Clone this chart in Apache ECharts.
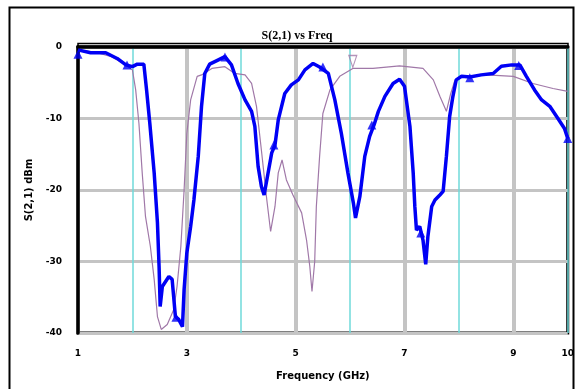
<!DOCTYPE html>
<html>
<head>
<meta charset="utf-8">
<script src="https://cdn.jsdelivr.net/npm/echarts@6/dist/echarts.min.js"></script>
<style>
  html, body { margin: 0; padding: 0; background: #fff; }
  #chart { width: 577px; height: 389px; }
</style>
</head>
<body>
<div id="chart"></div>
<script>
// S(2,1) vs Freq - measured (blue) and simulated (purple)
var blueFreq = [1.00, 1.23, 1.51, 1.72, 1.88, 2.00, 2.09, 2.21, 2.26, 2.32, 2.40, 2.46, 2.49, 2.51, 2.55, 2.67, 2.73, 2.79, 2.85, 2.92, 2.95,
  3.00, 3.07, 3.13, 3.21, 3.27, 3.33, 3.42, 3.58, 3.70, 3.82, 3.94, 4.07, 4.19, 4.25, 4.31, 4.37, 4.42, 4.47, 4.56, 4.62, 4.68, 4.80, 4.92,
  5.05, 5.17, 5.32, 5.44, 5.60, 5.72, 5.84, 5.96, 6.06, 6.10, 6.18, 6.27, 6.36, 6.44, 6.52, 6.64, 6.79, 6.91,
  7.00, 7.10, 7.16, 7.19, 7.22, 7.28, 7.34, 7.39, 7.43, 7.50, 7.56, 7.65, 7.71, 7.77, 7.83, 7.89, 7.95,
  8.05, 8.20, 8.41, 8.63, 8.78, 8.97, 9.12, 9.24, 9.39, 9.52, 9.67, 9.82, 9.94, 10.00];
var blueVal = [-0.4, -0.8, -0.8, -1.6, -2.5, -2.75, -2.4, -2.4, -6.0, -10.7, -17.6, -24.6, -30.7, -36.3, -33.5, -32.1, -32.5, -37.7, -38.1, -39.1, -33.9,
  -28.8, -25.1, -21.4, -15.3, -8.3, -3.7, -2.4, -1.8, -1.35, -2.5, -5.1, -7.4, -9.0, -11.1, -16.7, -19.5, -20.7, -18.6, -14.8, -13.7, -10.2, -6.5, -5.3,
  -4.6, -3.2, -2.3, -2.8, -3.7, -7.4, -12.1, -17.6, -21.8, -23.9, -20.9, -15.3, -12.5, -10.9, -9.0, -6.9, -5.1, -4.5,
  -5.5, -11.1, -17.6, -22.3, -25.6, -25.1, -27.0, -30.4, -26.5, -22.3, -21.4, -20.7, -20.2, -15.3, -9.7, -6.9, -4.6,
  -4.1, -4.2, -3.9, -3.7, -2.7, -2.5, -2.5, -4.1, -6.0, -7.4, -8.3, -10.0, -11.4, -12.8];

// triangle markers on the measured trace
var markFreq = [1.0, 1.9, 2.8, 3.7, 4.6, 5.5, 6.4, 7.3, 8.2, 9.1, 10.0];
var markVal = [-1.0, -2.5, -37.8, -1.4, -13.7, -2.8, -10.9, -26.0, -4.3, -2.6, -12.8];

var purpleFreq = [1.00, 1.30, 1.60, 1.88, 2.00, 2.06, 2.12, 2.18, 2.24, 2.33, 2.40, 2.46, 2.53, 2.64, 2.76, 2.82, 2.89, 2.95,
  3.00, 3.07, 3.19, 3.27, 3.46, 3.70, 3.88, 4.07, 4.19, 4.28, 4.37, 4.47, 4.54, 4.62, 4.68, 4.75, 4.83, 4.95,
  5.11, 5.20, 5.26, 5.30, 5.35, 5.38, 5.44, 5.50, 5.63, 5.81, 6.05, 6.42, 6.91, 7.34, 7.53, 7.65, 7.77, 7.85, 7.92,
  8.08, 8.51, 9.00, 9.36, 9.73, 10.00];
var purpleVal = [-0.4, -0.7, -1.3, -2.5, -3.2, -6.0, -10.7, -17.6, -23.7, -27.9, -32.5, -37.7, -39.5, -38.8, -36.7, -33.5, -27.9, -20.0,
  -12.1, -7.4, -4.1, -3.9, -3.0, -2.75, -3.7, -3.9, -5.1, -8.3, -14.4, -21.4, -25.8, -22.3, -17.6, -15.8, -18.6, -20.7,
  -23.2, -27.0, -30.7, -34.2, -30.0, -22.3, -15.3, -9.3, -6.0, -4.1, -3.0, -3.0, -2.65, -3.0, -4.6, -6.9, -9.0, -6.5, -4.8,
  -4.1, -3.9, -4.1, -5.1, -5.8, -6.2];
var purpleMarkFreq = [6.05];
var purpleMarkVal = [-3.0];

var xLabels = [1, 3, 5, 7, 9, 10];
var yTicks = [0, -10, -20, -30, -40];

function pairs(a, b) {
  return a.map(function (v, i) { return [v, b[i]]; });
}

var dom = document.getElementById('chart');
var myChart = echarts.init(dom);
var option = {
  animation: false,
  backgroundColor: '#fff',
  title: {
    text: 'S(2,1) vs Freq',
    left: 292,
    textAlign: 'center',
    top: 25,
    textStyle: { fontFamily: 'Liberation Serif', fontWeight: 'bold', fontSize: 12, color: '#000' }
  },
  graphic: [
    { type: 'rect', shape: { x: 9.5, y: 7.5, width: 564, height: 400 }, style: { fill: null, stroke: '#000', lineWidth: 2 }, z: 0 },
    { type: 'polyline', shape: { points: [[78, 48], [78, 43.5], [568, 43.5], [568, 48]] }, style: { fill: null, stroke: '#000', lineWidth: 1.5 }, z: 10 }
  ],
  grid: {
    left: 78, right: 9, top: 47, bottom: 56,
    show: true, borderColor: '#000', borderWidth: 3, backgroundColor: '#fff'
  },
  xAxis: [{
    type: 'value', min: 1, max: 10, interval: 1,
    name: 'Frequency (GHz)', nameLocation: 'middle', nameGap: 38,
    nameTextStyle: { fontFamily: 'DejaVu Sans', fontWeight: 'bold', fontSize: 10, color: '#000' },
    axisLine: { show: true, lineStyle: { color: '#000', width: 3.5 } },
    axisTick: { show: false },
    axisLabel: {
      margin: 16, fontFamily: 'DejaVu Sans', fontWeight: 'bold', fontSize: 9, color: '#000',
      formatter: function (v) { return xLabels.indexOf(v) >= 0 ? String(v) : ''; }
    },
    splitLine: { show: true, lineStyle: { color: ['#c4c4c4', 'rgba(0,0,0,0)'], width: 4 } }
  }, {
    type: 'value', min: 1, max: 10, interval: 1, position: 'bottom',
    axisLine: { show: false }, axisTick: { show: false }, axisLabel: { show: false },
    splitLine: { show: true, lineStyle: { color: ['rgba(0,0,0,0)', '#6fdada'], width: 1.5 } }
  }],
  yAxis: [{
    type: 'value', min: -40, max: 0, interval: 10,
    name: 'S(2,1) dBm', nameLocation: 'middle', nameGap: 44, nameRotate: 90,
    nameTextStyle: { fontFamily: 'DejaVu Sans', fontWeight: 'bold', fontSize: 10, color: '#000' },
    axisLine: { show: true, lineStyle: { color: '#000', width: 3.5 } },
    axisTick: { show: false },
    axisLabel: {
      margin: 16, fontFamily: 'DejaVu Sans', fontWeight: 'bold', fontSize: 9, color: '#000',
      formatter: function (v) { return yTicks.indexOf(v) >= 0 ? String(v) : ''; }
    },
    splitLine: { show: true, lineStyle: { color: '#c4c4c4', width: 3 } }
  }],
  series: [{
    name: 'sim',
    type: 'line',
    data: pairs(purpleFreq, purpleVal),
    showSymbol: false,
    lineStyle: { color: '#a078a8', width: 1.2 },
    z: 3
  }, {
    name: 'simMark',
    type: 'scatter',
    data: pairs(purpleMarkFreq, purpleMarkVal),
    symbol: 'path://M0,0 L10,0 L5,10 Z',
    symbolSize: [8, 12],
    symbolOffset: [0, -7],
    itemStyle: { color: 'rgba(0,0,0,0)', borderColor: '#a078a8', borderWidth: 1.2 },
    z: 3
  }, {
    name: 'meas',
    type: 'line',
    data: pairs(blueFreq, blueVal),
    showSymbol: false,
    lineStyle: { color: '#0000f5', width: 3.5 },
    z: 4
  }, {
    name: 'measMark',
    type: 'scatter',
    data: pairs(markFreq, markVal),
    symbol: 'triangle',
    symbolSize: 9,
    itemStyle: { color: '#0000f5' },
    z: 5
  }]
};
myChart.setOption(option, true);
</script>
</body>
</html>
